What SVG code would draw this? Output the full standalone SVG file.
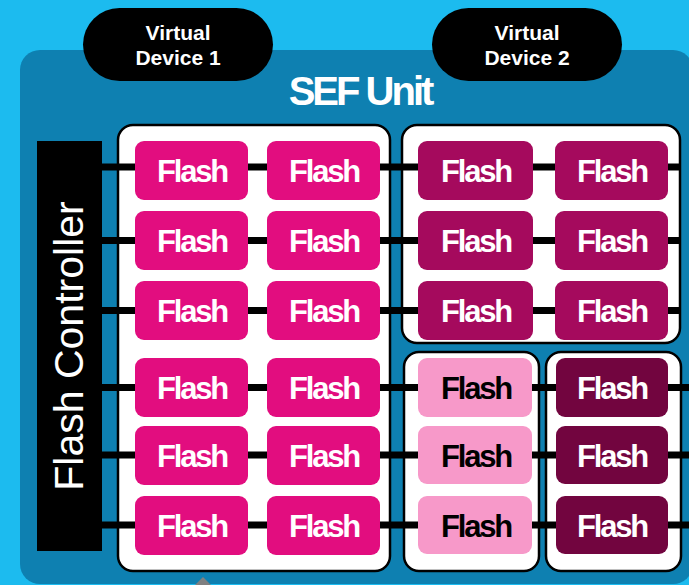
<svg xmlns="http://www.w3.org/2000/svg" width="689" height="585" viewBox="0 0 689 585">
  <style>
    .pill { fill: #000; }
    .pill-text { font-family: "Liberation Sans", Arial, sans-serif; font-weight: bold; font-size: 21px; fill: #fff; text-anchor: middle; }
    .group-box { fill: #fff; stroke: #000; stroke-width: 2.5; }
    .flash { rx: 9; ry: 9; }
    .f1 { fill: #E20D7F; }
    .f2 { fill: #A50A5D; }
    .f3 { fill: #F799C9; }
    .f4 { fill: #72053F; }
    .flash-text { font-family: "Liberation Sans", Arial, sans-serif; font-weight: bold; font-size: 31px; letter-spacing: -2.2px; text-anchor: middle; fill: #fff; }
    .dark-text { fill: #000; }
    .bus { stroke: #000; stroke-width: 7; fill: none; }
  </style>

  <!-- backdrop and SEF unit panel -->
  <rect x="0" y="0" width="689" height="585" fill="#1CBBEF"/>
  <rect x="20" y="50" width="673" height="534" rx="20" ry="20" fill="#0E80B1"/>
  <polygon points="203,577 189,591 217,591" fill="#808080"/>

  <text x="360" y="105" font-family="Liberation Sans, Arial, sans-serif" font-weight="bold" font-size="40" letter-spacing="-3" fill="#fff" text-anchor="middle">SEF Unit</text>

  <!-- virtual device labels -->
  <g id="virtual-device-1">
    <rect class="pill" x="83" y="8" width="190" height="73" rx="36.5"/>
    <text class="pill-text" x="178" y="40">Virtual</text>
    <text class="pill-text" x="178" y="65">Device 1</text>
  </g>
  <g id="virtual-device-2">
    <rect class="pill" x="432" y="8" width="190" height="73" rx="36.5"/>
    <text class="pill-text" x="527" y="40">Virtual</text>
    <text class="pill-text" x="527" y="65">Device 2</text>
  </g>

  <!-- flash controller -->
  <g id="flash-controller">
    <rect x="37" y="141" width="65" height="410" fill="#000"/>
    <text transform="translate(83,346) rotate(-90)" font-family="Liberation Sans, Arial, sans-serif" font-size="41" fill="#fff" text-anchor="middle">Flash Controller</text>
  </g>

  <!-- grouping boxes -->
  <g id="group-left"><rect class="group-box" x="118" y="125" width="272" height="446" rx="15"/></g>
  <g id="group-top-right"><rect class="group-box" x="402" y="125" width="278" height="218" rx="15"/></g>
  <g id="group-bottom-mid"><rect class="group-box" x="404" y="352" width="135" height="219" rx="15"/></g>
  <g id="group-bottom-right"><rect class="group-box" x="546" y="352" width="135" height="219" rx="15"/></g>

  <!-- bus lines -->
  <g id="connectors">
    <path class="bus" d="M102,167 H135 M248,167 H267 M380,167 H418 M533,167 H555 M668,167 H680"/>
    <path class="bus" d="M102,240.5 H135 M248,240.5 H267 M380,240.5 H418 M533,240.5 H555 M668,240.5 H680"/>
    <path class="bus" d="M102,310.5 H135 M248,310.5 H267 M380,310.5 H418 M533,310.5 H555 M668,310.5 H680"/>
    <path class="bus" d="M102,387.5 H135 M248,387.5 H267 M380,387.5 H418 M532,387.5 H556 M668,387.5 H689"/>
    <path class="bus" d="M102,455 H135 M248,455 H267 M380,455 H418 M532,455 H556 M668,455 H689"/>
    <path class="bus" d="M102,525 H135 M248,525 H267 M380,525 H418 M532,525 H556 M668,525 H689"/>
  </g>

  <!-- flash chips: left group -->
  <g id="flash-r1c1"><rect class="flash f1" x="135" y="141" width="113" height="59"/><text class="flash-text" x="192" y="182">Flash</text></g>
  <g id="flash-r1c2"><rect class="flash f1" x="267" y="141" width="113" height="59"/><text class="flash-text" x="324" y="182">Flash</text></g>
  <g id="flash-r2c1"><rect class="flash f1" x="135" y="211" width="113" height="59"/><text class="flash-text" x="192" y="252">Flash</text></g>
  <g id="flash-r2c2"><rect class="flash f1" x="267" y="211" width="113" height="59"/><text class="flash-text" x="324" y="252">Flash</text></g>
  <g id="flash-r3c1"><rect class="flash f1" x="135" y="281" width="113" height="59"/><text class="flash-text" x="192" y="322">Flash</text></g>
  <g id="flash-r3c2"><rect class="flash f1" x="267" y="281" width="113" height="59"/><text class="flash-text" x="324" y="322">Flash</text></g>
  <g id="flash-r4c1"><rect class="flash f1" x="135" y="358" width="113" height="59"/><text class="flash-text" x="192" y="399">Flash</text></g>
  <g id="flash-r4c2"><rect class="flash f1" x="267" y="358" width="113" height="59"/><text class="flash-text" x="324" y="399">Flash</text></g>
  <g id="flash-r5c1"><rect class="flash f1" x="135" y="426" width="113" height="59"/><text class="flash-text" x="192" y="467">Flash</text></g>
  <g id="flash-r5c2"><rect class="flash f1" x="267" y="426" width="113" height="59"/><text class="flash-text" x="324" y="467">Flash</text></g>
  <g id="flash-r6c1"><rect class="flash f1" x="135" y="496" width="113" height="59"/><text class="flash-text" x="192" y="537">Flash</text></g>
  <g id="flash-r6c2"><rect class="flash f1" x="267" y="496" width="113" height="59"/><text class="flash-text" x="324" y="537">Flash</text></g>

  <!-- flash chips: top right group -->
  <g id="flash-r1c3"><rect class="flash f2" x="418" y="141" width="115" height="59"/><text class="flash-text" x="476" y="182">Flash</text></g>
  <g id="flash-r1c4"><rect class="flash f2" x="555" y="141" width="113" height="59"/><text class="flash-text" x="612" y="182">Flash</text></g>
  <g id="flash-r2c3"><rect class="flash f2" x="418" y="211" width="115" height="59"/><text class="flash-text" x="476" y="252">Flash</text></g>
  <g id="flash-r2c4"><rect class="flash f2" x="555" y="211" width="113" height="59"/><text class="flash-text" x="612" y="252">Flash</text></g>
  <g id="flash-r3c3"><rect class="flash f2" x="418" y="281" width="115" height="59"/><text class="flash-text" x="476" y="322">Flash</text></g>
  <g id="flash-r3c4"><rect class="flash f2" x="555" y="281" width="113" height="59"/><text class="flash-text" x="612" y="322">Flash</text></g>

  <!-- flash chips: bottom middle group -->
  <g id="flash-r4c3"><rect class="flash f3" x="418" y="358" width="114" height="59"/><text class="flash-text dark-text" x="476" y="399">Flash</text></g>
  <g id="flash-r5c3"><rect class="flash f3" x="418" y="426" width="114" height="58"/><text class="flash-text dark-text" x="476" y="467">Flash</text></g>
  <g id="flash-r6c3"><rect class="flash f3" x="418" y="496" width="114" height="58"/><text class="flash-text dark-text" x="476" y="537">Flash</text></g>

  <!-- flash chips: bottom right group -->
  <g id="flash-r4c4"><rect class="flash f4" x="556" y="358" width="112" height="59"/><text class="flash-text" x="612" y="399">Flash</text></g>
  <g id="flash-r5c4"><rect class="flash f4" x="556" y="426" width="112" height="58"/><text class="flash-text" x="612" y="467">Flash</text></g>
  <g id="flash-r6c4"><rect class="flash f4" x="556" y="496" width="112" height="58"/><text class="flash-text" x="612" y="537">Flash</text></g>
</svg>
